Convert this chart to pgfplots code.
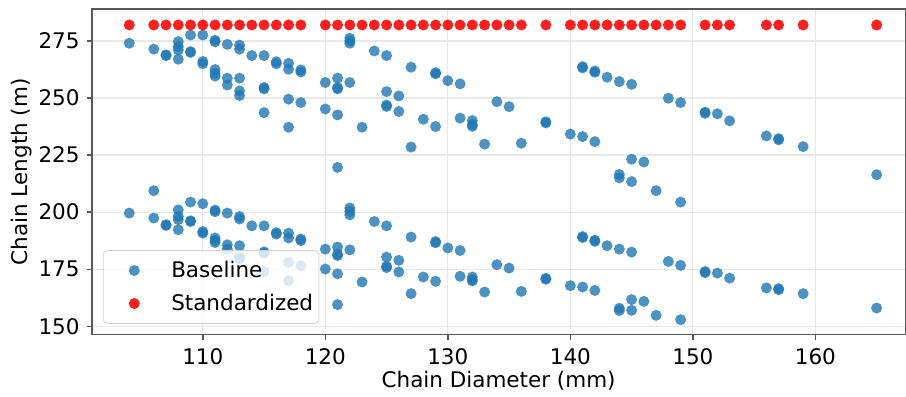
\documentclass[border=0pt]{standalone}
\usepackage{fontspec}
\setmainfont{DejaVu Sans}
\usepackage{pgfplots}
\pgfplotsset{compat=1.18}
\definecolor{mplblue}{HTML}{1F77B4}
\definecolor{spinec}{gray}{0.35}
\definecolor{gridc}{gray}{0.91}
\begin{document}
\begin{tikzpicture}
\path (-46pt,-29.5pt) rectangle (407pt,167.5pt);
\begin{axis}[
  scale only axis, width=407pt, height=163pt,
  xmin=100.95, xmax=167.34, ymin=146.3, ymax=289,
  xtick={110,120,130,140,150,160}, ytick={150,175,200,225,250,275},
  grid=major, grid style={gridc, line width=0.6pt},
  axis line style={spinec, line width=0.7pt},
  tick style={spinec, line width=0.7pt},
  tick align=outside, major tick length=2.5pt, tick pos=left,
  font=\fontsize{10.75}{13}\selectfont,
  /pgf/number format/assume math mode=true,
  xticklabel style={anchor=base, yshift=-12.4pt, font=\fontsize{10.75}{13}\selectfont},
  yticklabel style={anchor=east, inner xsep=0pt, xshift=-3.5pt, font=\fontsize{10.75}{13}\selectfont},
  xlabel={Chain Diameter (mm)}, ylabel={Chain Length (m)},
  xlabel style={at={(axis description cs:0.5,-0.1411)}, anchor=center, font=\fontsize{10.75}{13}\selectfont},
  ylabel style={at={(axis description cs:-0.086,0.5)}, anchor=center, font=\fontsize{10.75}{13}\selectfont},
  legend style={at={(0.0135,0.0337)}, anchor=south west, draw=gray!35, fill=white, fill opacity=0.8, text opacity=1, rounded corners=2pt, inner xsep=1pt, inner ysep=3.1pt, row sep=2.85pt, font=\fontsize{10.75}{13}\selectfont, /tikz/every even column/.append style={column sep=1.4pt}},
  legend image code/.code={\path[draw=none,fill=none] (0pt,0pt) -- (31pt,0pt); \draw[#1] plot coordinates {(14.5pt,0pt)};},
  legend cell align=left,
]
\addplot[mplblue, only marks, mark=*, mark size=2.75pt, mark options={draw opacity=0, fill=mplblue, fill opacity=0.8}] coordinates {
(104,274.0) (104,199.6)
(106,271.4) (106,209.4) (106,197.4)
(107,268.9) (107,268.6) (107,194.5) (107,194.2)
(108,274.7) (108,272.5) (108,271.0) (108,267.0) (108,201.0) (108,198.1) (108,196.7) (108,192.3)
(109,277.6) (109,270.3) (109,270.0) (109,204.4) (109,196.2) (109,195.9)
(110,277.6) (110,266.0) (110,265.0) (110,203.7) (110,191.5) (110,190.8)
(111,275.3) (111,274.6) (111,262.5) (111,260.8) (111,259.6) (111,200.9) (111,200.2) (111,188.7) (111,187.6) (111,186.7)
(112,273.5) (112,258.7) (112,255.7) (112,199.6) (112,185.7) (112,183.8)
(113,273.2) (113,271.4) (113,258.7) (113,253.1) (113,251.1) (113,198.1) (113,197.0) (113,185.3) (113,180.3) (113,179.5)
(114,268.6) (114,194.0)
(115,268.6) (115,254.6) (115,254.0) (115,243.6) (115,194.0) (115,182.6) (115,182.0) (115,174.0)
(116,265.9) (116,265.0) (116,191.0) (116,190.4)
(117,265.2) (117,262.6) (117,249.5) (117,237.2) (117,190.8) (117,188.7) (117,178.0) (117,170.0)
(118,262.3) (118,261.4) (118,248.0) (118,188.2) (118,187.5) (118,176.5)
(120,256.8) (120,245.2) (120,183.8) (120,175.1)
(121,258.7) (121,254.6) (121,254.0) (121,242.6) (121,219.6) (121,184.7) (121,181.6) (121,181.0) (121,173.0) (121,159.5)
(122,276.2) (122,275.0) (122,274.0) (122,256.8) (122,201.8) (122,200.3) (122,198.8) (122,183.5)
(123,237.2) (123,169.4)
(124,270.6) (124,195.9)
(125,268.6) (125,252.8) (125,246.9) (125,246.3) (125,194.0) (125,180.3) (125,176.3) (125,175.7)
(126,250.9) (126,244.1) (126,178.9) (126,173.8)
(127,263.5) (127,228.5) (127,189.1) (127,164.3)
(128,240.7) (128,171.6)
(129,261.1) (129,260.6) (129,237.5) (129,187.1) (129,186.6) (129,169.7)
(130,257.6) (130,184.3)
(131,256.2) (131,241.2) (131,183.2) (131,171.9)
(132,240.1) (132,238.4) (132,237.6) (132,171.6) (132,170.4) (132,169.9)
(133,229.8) (133,165.0)
(134,248.4) (134,177.0)
(135,246.2) (135,175.5)
(136,230.2) (136,165.3)
(138,239.6) (138,239.1) (138,171.0) (138,170.6)
(140,234.2) (140,167.8)
(141,263.7) (141,263.2) (141,233.1) (141,189.3) (141,188.9) (141,167.2)
(142,261.8) (142,261.3) (142,230.9) (142,187.7) (142,187.2) (142,165.7)
(143,259.1) (143,185.3)
(144,257.2) (144,216.5) (144,215.0) (144,183.8) (144,157.9) (144,156.9)
(145,256.0) (145,223.2) (145,213.4) (145,182.5) (145,161.7) (145,157.0)
(146,222.0) (146,160.9)
(147,209.4) (147,154.8)
(148,249.9) (148,178.4)
(149,248.0) (149,204.4) (149,176.7) (149,152.9)
(151,243.8) (151,243.3) (151,174.0) (151,173.5)
(152,243.1) (152,173.3)
(153,240.0) (153,171.1)
(156,233.4) (156,166.8)
(157,232.2) (157,231.7) (157,166.5) (157,166.0)
(159,228.7) (159,164.3)
(165,216.4) (165,158.0)
};
\addlegendentry{Baseline}
\addplot[red, only marks, mark=*, mark size=2.75pt, mark options={draw opacity=0, fill=red, fill opacity=0.88}] coordinates {
(104,282) (106,282) (107,282) (108,282) (109,282) (110,282) (111,282) (112,282) (113,282) (114,282)
(115,282) (116,282) (117,282) (118,282) (120,282) (121,282) (122,282) (123,282) (124,282) (125,282)
(126,282) (127,282) (128,282) (129,282) (130,282) (131,282) (132,282) (133,282) (134,282) (135,282)
(136,282) (138,282) (140,282) (141,282) (142,282) (143,282) (144,282) (145,282) (146,282) (147,282)
(148,282) (149,282) (151,282) (152,282) (153,282) (156,282) (157,282) (159,282) (165,282)
};
\addlegendentry{Standardized}
\end{axis}
\end{tikzpicture}
\end{document}
